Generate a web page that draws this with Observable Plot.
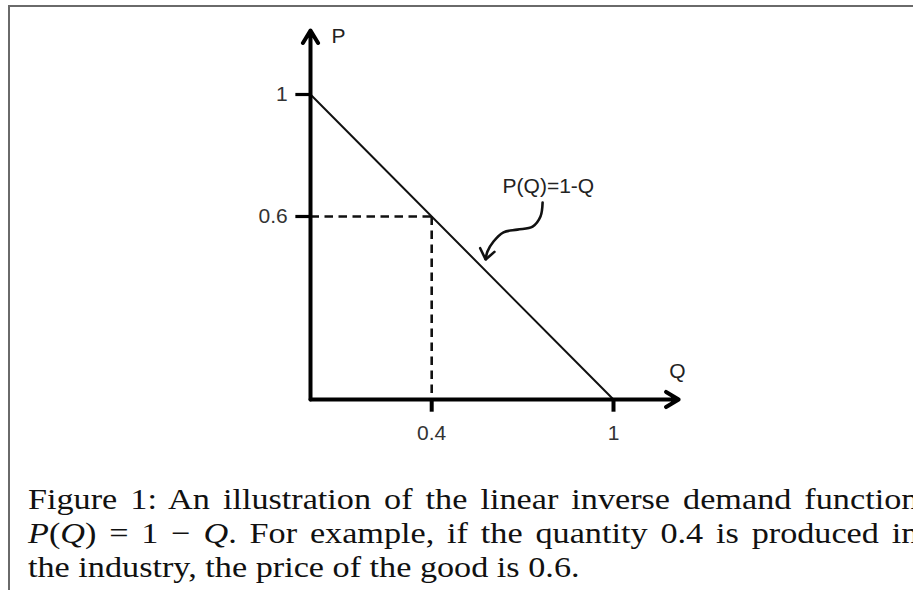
<!DOCTYPE html>
<html>
<head>
<meta charset="utf-8">
<script src="https://cdn.jsdelivr.net/npm/d3@7"></script>
<script src="https://cdn.jsdelivr.net/npm/@observablehq/plot@0.6"></script>
<style>
  html, body { margin: 0; padding: 0; background: #fff; width: 913px; height: 590px; overflow: hidden; }
  #frame { position: absolute; left: 8px; top: 5px; width: 920px; height: 600px;
           border-top: 2px solid #6a6a6a; border-left: 2px solid #6a6a6a; box-sizing: border-box; }
  #chart { position: absolute; left: 0; top: 0; }
  #caption { position: absolute; left: 28px; top: 482px; width: 781px;
             transform: scaleX(1.14); transform-origin: 0 0;
             font-family: "Liberation Serif", serif; font-size: 30px; line-height: 34px;
             color: #111; }
  #caption .j { text-align: justify; text-align-last: justify; white-space: nowrap; }
  #caption .n { white-space: nowrap; }
</style>
</head>
<body>
<div id="frame"></div>
<div id="chart"></div>
<div id="caption"></div>
<script>
// ---- Data ----
const demandQ = [0, 1];
const demandP = [1, 0];
const exampleQ = 0.4;
const exampleP = 0.6;
const xTickValues = [0.4, 1];
const xTickLabels = ["0.4", "1"];
const yTickValues = [1, 0.6];
const yTickLabels = ["1", "0.6"];
const axisMaxQ = 1.215;
const axisMaxP = 1.21;
const axisLabels = ["P", "Q"];
const curveLabel = "P(Q)=1-Q";
// annotation curved arrow (data units)
const curveQ = [0.766, 0.759, 0.733, 0.683, 0.637, 0.604, 0.584, 0.578];
const curveP = [0.646, 0.600, 0.567, 0.557, 0.548, 0.518, 0.485, 0.459];
const headQ = [0.560, 0.578, 0.607];
const headP = [0.496, 0.459, 0.484];
const captionLines = [
  "Figure 1:  An illustration of the linear inverse demand function",
  "<i>P</i>(<i>Q</i>) = 1 − <i>Q</i>.  For example, if the quantity 0.4 is produced in",
  "the industry, the price of the good is 0.6."
];

// ---- Build ----
const demand = demandQ.map((q, i) => ({ q, p: demandP[i] }));
const curve = curveQ.map((q, i) => ({ q, p: curveP[i] }));
const head = headQ.map((q, i) => ({ q, p: headP[i] }));
const xt = xTickValues.map((v, i) => ({ v, label: xTickLabels[i] }));
const yt = yTickValues.map((v, i) => ({ v, label: yTickLabels[i] }));
const guides = [
  { x1: 0, y1: exampleP, x2: exampleQ, y2: exampleP },
  { x1: exampleQ, y1: exampleP, x2: exampleQ, y2: 0 }
];

const font = "Liberation Sans, Arial, sans-serif";
const chart = Plot.plot({
  width: 913,
  height: 470,
  margin: 0,
  x: { domain: [0, 1], range: [310, 613], axis: null },
  y: { domain: [0, 1], range: [399, 94], axis: null },
  style: { fontFamily: font, background: "transparent", overflow: "visible" },
  marks: [
    Plot.link(guides, { x1: "x1", y1: "y1", x2: "x2", y2: "y2", stroke: "#111", strokeWidth: 2.6, strokeDasharray: "8.5,5.5" }),
    Plot.line(demand, { x: "q", y: "p", stroke: "#111", strokeWidth: 2 }),
    Plot.arrow([{ x1: 0, y1: 0, x2: 0, y2: axisMaxP }], { x1: "x1", y1: "y1", x2: "x2", y2: "y2", stroke: "#000", strokeWidth: 4, headLength: 5.5, headAngle: 62 }),
    Plot.arrow([{ x1: 0, y1: 0, x2: axisMaxQ, y2: 0 }], { x1: "x1", y1: "y1", x2: "x2", y2: "y2", stroke: "#000", strokeWidth: 4, headLength: 5.5, headAngle: 62 }),
    Plot.link(yt, { x1: -0.05, x2: 0, y1: "v", y2: "v", stroke: "#000", strokeWidth: 3.2 }),
    Plot.link(xt, { x1: "v", x2: "v", y1: 0, y2: -0.04, stroke: "#000", strokeWidth: 4 }),
    Plot.text(yt, { x: -0.075, y: "v", text: "label", textAnchor: "end", fontSize: 21, fill: "#333" }),
    Plot.text(xt, { x: "v", y: -0.11, text: "label", fontSize: 21, fill: "#333" }),
    Plot.text([axisLabels[0]], { x: 0.092, y: 1.19, text: d => d, fontSize: 21, fill: "#222" }),
    Plot.text([axisLabels[1]], { x: 1.211, y: 0.092, text: d => d, fontSize: 21, fill: "#222" }),
    Plot.text([curveLabel], { x: 0.785, y: 0.698, text: d => d, fontSize: 21, fill: "#222" }),
    Plot.line(curve, { x: "q", y: "p", curve: "catmull-rom", stroke: "#111", strokeWidth: 2.6 }),
    Plot.line(head, { x: "q", y: "p", stroke: "#111", strokeWidth: 2.6, strokeLinejoin: "miter" })
  ]
});
document.getElementById("chart").appendChild(chart);

const cap = document.getElementById("caption");
captionLines.forEach((t, i) => {
  const d = document.createElement("div");
  d.className = i < captionLines.length - 1 ? "j" : "n";
  d.innerHTML = t;
  cap.appendChild(d);
});
</script>
</body>
</html>
